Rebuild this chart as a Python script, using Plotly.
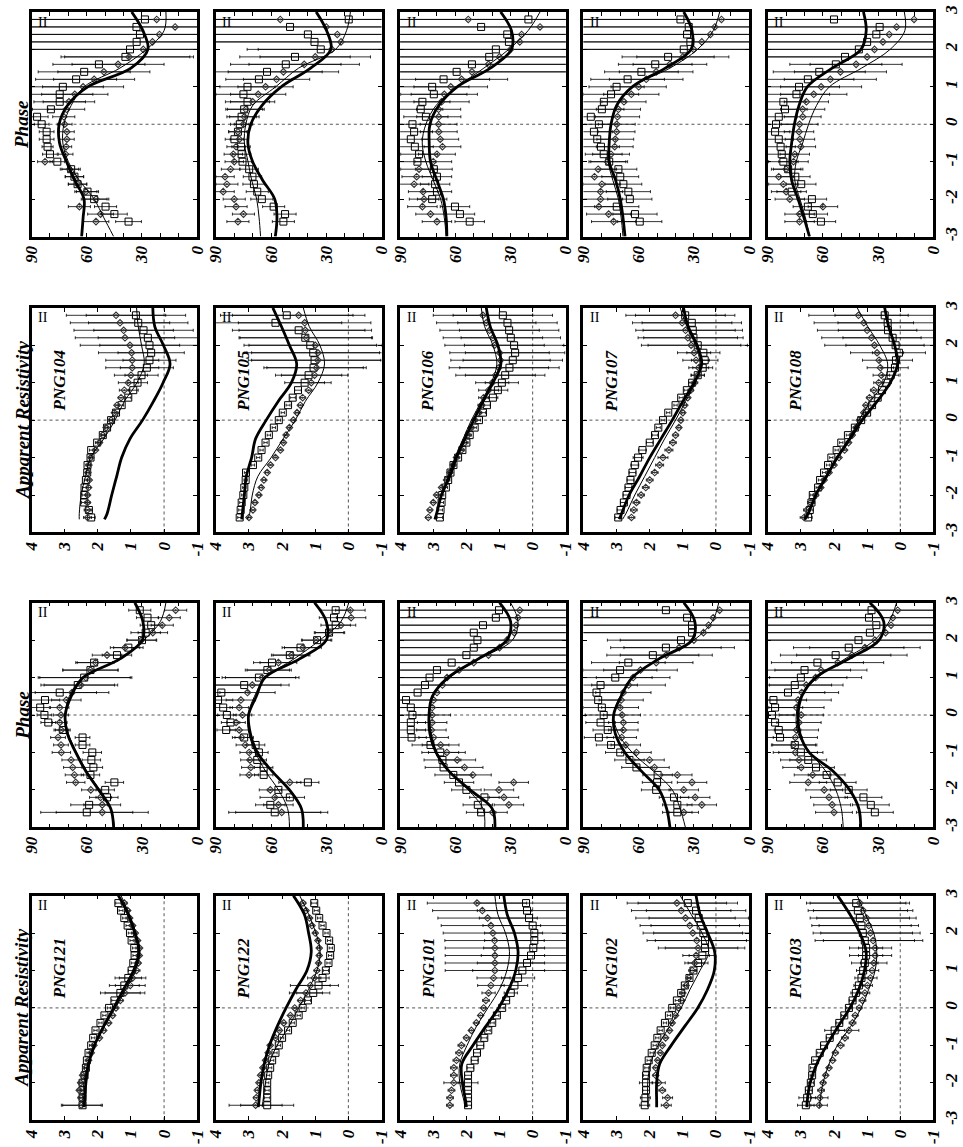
import plotly.graph_objects as go

# ---------------------------------------------------------------------------
# Period axis samples (log10 T) for the measured points and the model curves
# ---------------------------------------------------------------------------
P_DATA = [-2.6, -2.4, -2.2, -2.0, -1.8, -1.6, -1.4, -1.2, -1.0, -0.8, -0.6, -0.4, -0.2, 0.0,
          0.2, 0.4, 0.6, 0.8, 1.0, 1.2, 1.4, 1.6, 1.8, 2.0, 2.2, 2.4, 2.6, 2.8]
P_MODEL = [-3.0, -2.5, -2.0, -1.5, -1.0, -0.5, 0.0, 0.5, 1.0, 1.5, 2.0, 2.5, 3.0]
P_MODEL_RHO = [-2.65, -2.5, -2.0, -1.5, -1.0, -0.5, 0.0, 0.5, 1.0, 1.5, 2.0, 2.5, 3.0]

STATIONS_UPPER = ["PNG104", "PNG105", "PNG106", "PNG107", "PNG108"]
STATIONS_LOWER = ["PNG121", "PNG122", "PNG101", "PNG102", "PNG103"]

RHO_TICKS = [4, 3, 2, 1, 0, -1]
PHASE_TICKS = [90, 80, 70, 60, 50, 40, 30, 20, 10, 0]
PHASE_TICK_TEXT = ["90", "", "", "60", "", "", "30", "", "", "0"]
PERIOD_TICKS = [-3, -2, -1, 0, 1, 2, 3]

# ---------------------------------------------------------------------------
# Phase (degrees)
# ---------------------------------------------------------------------------
PHASE_THICK = {
    "PNG104": [62.8, 62.0, 61.5, 66.5, 71.0, 74.8, 75.0, 70.5, 59.5, 36.0, 26.8, 29.5, 35.6],
    "PNG105": [57.7, 56.8, 58.0, 64.5, 70.0, 72.6, 71.0, 65.0, 54.5, 38.5, 27.5, 29.8, 35.5],
    "PNG106": [64.6, 65.0, 66.5, 70.0, 73.5, 74.2, 73.8, 69.0, 59.0, 41.0, 29.5, 29.5, 35.4],
    "PNG107": [67.4, 68.5, 70.0, 72.5, 76.0, 76.0, 75.0, 72.0, 63.5, 45.5, 31.5, 31.0, 35.5],
    "PNG108": [67.3, 70.3, 73.5, 77.0, 78.0, 77.0, 75.5, 73.0, 68.5, 55.0, 39.3, 36.5, 38.0],
    "PNG121": [45.4, 47.0, 53.5, 60.5, 66.0, 70.5, 71.7, 68.5, 62.0, 42.0, 29.8, 29.5, 33.9],
    "PNG122": [42.5, 43.5, 50.0, 59.5, 67.5, 71.2, 72.2, 68.0, 63.3, 44.5, 30.0, 30.0, 36.4],
    "PNG101": [38.5, 40.0, 52.0, 63.5, 70.5, 73.8, 74.3, 72.5, 64.0, 47.5, 32.0, 30.0, 36.0],
    "PNG102": [43.0, 44.8, 48.8, 58.5, 67.5, 72.7, 73.6, 69.5, 63.5, 49.0, 31.0, 29.5, 35.5],
    "PNG103": [39.5, 40.5, 45.5, 54.5, 67.5, 72.5, 73.5, 71.5, 64.0, 46.0, 29.5, 27.0, 34.5],
}
PHASE_THIN = {
    "PNG104": [45.4, 50.7, 56.0, 64.0, 70.0, 73.0, 72.4, 68.5, 61.4, 42.0, 27.6, 18.0, 17.0],
    "PNG105": [65.7, 66.5, 67.8, 70.5, 72.5, 74.5, 73.7, 70.0, 57.5, 45.0, 25.0, 19.0, 16.9],
    "PNG106": [65.0, 66.0, 68.0, 72.0, 76.0, 78.0, 76.0, 70.5, 59.0, 44.5, 31.0, 20.5, 14.0],
    "PNG107": [68.5, 69.5, 71.0, 74.0, 76.5, 76.0, 75.0, 72.0, 63.5, 43.0, 28.0, 19.5, 16.0],
    "PNG108": [67.3, 69.5, 72.5, 75.3, 74.5, 71.0, 67.8, 63.5, 56.5, 39.0, 23.5, 15.5, 15.8],
    "PNG121": [45.0, 47.0, 53.0, 60.0, 65.5, 70.0, 71.7, 69.5, 62.0, 42.0, 29.0, 20.0, 17.0],
    "PNG122": [50.0, 51.0, 56.0, 63.0, 68.5, 72.0, 72.5, 69.0, 63.0, 47.5, 33.5, 22.0, 17.8],
    "PNG101": [44.0, 45.0, 53.0, 63.0, 70.0, 73.0, 74.0, 72.5, 63.0, 47.0, 29.0, 26.0, 30.0],
    "PNG102": [34.6, 37.5, 41.7, 52.0, 63.5, 71.0, 73.6, 70.0, 63.5, 49.0, 30.0, 20.0, 16.5],
    "PNG103": [49.0, 50.0, 53.0, 58.5, 67.0, 73.5, 74.5, 72.0, 63.0, 48.0, 32.0, 24.0, 20.0],
}
PHASE_SQ = {
    "PNG104": [37.3, 45.0, 49.8, 56.0, 59.6, 65.0, 66.7, 68.5, 76.0, 80.0, 81.3, 81.8, 81.8, 84.5,
               87.0, 79.5, 74.7, 74.7, 73.0, 65.8, 61.4, 53.4, 39.0, 36.5, 32.9, 31.1, 33.0, 28.4],
    "PNG105": [53.3, 52.4, 58.6, 65.0, 67.5, 69.3, 70.1, 71.9, 75.5, 76.0, 76.3, 79.9, 78.0, 77.0,
               76.0, 74.6, 72.8, 75.0, 72.8, 66.6, 62.2, 52.0, 47.0, 33.0, 36.4, 40.0, 49.7, 17.8],
    "PNG106": [52.2, 57.5, 60.2, 72.6, 70.0, 71.0, 70.0, 71.7, 80.6, 79.7, 82.0, 84.2, 82.4, 83.3,
               76.0, 78.8, 77.9, 71.7, 72.6, 66.4, 59.3, 51.0, 41.6, 38.0, 30.9, 31.8, 46.0, 20.3],
    "PNG107": [59.4, 62.0, 71.9, 64.8, 65.6, 68.3, 70.0, 71.0, 76.0, 79.0, 80.5, 82.5, 84.3, 81.6,
               86.0, 80.0, 78.9, 75.0, 72.0, 66.0, 58.5, 51.0, 44.0, 35.5, 31.9, 33.7, 32.8, 37.3],
    "PNG108": [61.1, 65.5, 68.2, 66.0, 77.0, 71.8, 75.0, 78.9, 81.5, 82.4, 83.0, 84.0, 86.0, 85.5,
               84.0, 80.6, 81.5, 74.4, 73.0, 68.2, 62.0, 53.0, 48.0, 40.5, 36.0, 31.0, 29.2, 54.0],
    "PNG121": [60.0, 58.7, 49.0, 50.0, 45.0, 58.0, 56.4, 57.5, 57.0, 62.3, 62.3, 73.0, 80.9, 83.0,
               85.3, 82.7, 74.7, 64.9, 61.4, 58.0, 56.0, 43.6, 37.4, 30.0, 28.0, 25.0, 27.0, 31.2],
    "PNG122": [58.0, 60.4, 49.8, 56.0, 40.0, 64.0, 64.0, 67.5, 66.6, 68.4, 74.6, 84.4, 82.0, 84.0,
               86.0, 88.8, 87.0, 74.6, 66.6, 62.0, 59.5, 49.8, 44.0, 35.0, 28.5, 24.9, 25.8, 24.9],
    "PNG101": [46.0, 47.8, 44.2, 54.0, 58.0, 61.1, 66.4, 67.0, 68.2, 73.5, 83.8, 84.2, 84.2, 83.3,
               84.2, 86.8, 80.5, 76.5, 74.0, 70.0, 62.0, 54.0, 50.0, 48.0, 50.0, 45.0, 38.0, 36.3],
    "PNG102": [39.0, 39.0, 40.8, 50.5, 50.0, 49.7, 61.2, 65.0, 70.0, 75.0, 81.6, 76.8, 80.7, 79.0,
               80.0, 82.0, 82.9, 80.7, 72.7, 70.1, 65.6, 52.3, 45.2, 37.0, 31.0, 31.0, 33.7, 45.2],
    "PNG103": [31.8, 34.0, 38.0, 46.0, 52.0, 58.0, 63.8, 68.0, 72.0, 75.3, 83.3, 84.0, 86.0, 87.7,
               86.0, 86.9, 79.0, 75.3, 72.0, 70.0, 63.0, 53.1, 46.0, 40.7, 34.5, 31.0, 35.0, 33.6],
}
PHASE_DI = {
    "PNG104": [55.0, 52.5, 64.0, 55.0, 60.5, 65.0, 66.7, 69.4, 82.7, 71.5, 71.2, 70.8, 70.8, 72.0,
               72.5, 71.1, 69.7, 66.5, 62.0, 56.0, 50.7, 43.0, 37.0, 29.3, 24.3, 20.5, 12.0, 22.0],
    "PNG105": [78.0, 75.0, 79.0, 80.0, 86.0, 84.0, 85.0, 82.0, 80.0, 80.5, 79.0, 77.2, 78.0, 75.0,
               74.5, 73.7, 70.0, 67.0, 63.0, 57.0, 53.3, 42.0, 36.0, 27.0, 22.0, 24.0, 30.0, 55.0],
    "PNG106": [70.0, 73.5, 77.9, 77.0, 77.5, 82.4, 81.0, 79.7, 72.0, 70.0, 67.0, 68.2, 69.0, 69.1,
               69.0, 69.1, 67.5, 66.0, 62.5, 56.6, 51.0, 42.0, 36.0, 30.0, 25.0, 24.0, 14.0, 53.0],
    "PNG107": [73.6, 76.3, 81.6, 80.7, 80.7, 80.0, 84.0, 82.0, 77.0, 75.0, 73.0, 72.7, 72.0, 71.9,
               71.5, 71.0, 68.0, 64.0, 60.0, 55.9, 50.5, 43.0, 36.0, 30.1, 25.7, 21.0, 18.6, 15.0],
    "PNG108": [72.7, 72.7, 60.0, 78.0, 80.0, 81.5, 84.0, 80.0, 76.0, 75.3, 72.0, 72.5, 73.0, 72.7,
               71.0, 71.0, 69.0, 65.0, 61.0, 56.0, 50.5, 42.0, 36.0, 32.0, 27.4, 24.0, 20.0, 10.5],
    "PNG121": [51.6, 51.6, 52.5, 57.8, 66.0, 66.7, 67.6, 68.5, 73.8, 74.0, 75.6, 73.8, 74.7, 74.0,
               74.7, 71.1, 68.0, 63.2, 60.5, 58.0, 55.2, 49.0, 39.2, 30.3, 24.1, 19.0, 15.2, 11.7],
    "PNG122": [54.2, 56.0, 58.0, 60.4, 49.8, 71.9, 71.0, 71.5, 71.9, 74.0, 76.0, 77.3, 79.0, 75.5,
               77.3, 76.4, 72.8, 70.2, 64.8, 61.0, 56.0, 48.9, 42.7, 35.5, 28.0, 22.0, 16.5, 16.9],
    "PNG101": [39.8, 30.9, 33.6, 36.3, 28.3, 50.5, 55.0, 59.0, 64.6, 68.0, 71.8, 73.0, 72.6, 72.6,
               72.6, 71.8, 70.0, 67.0, 64.5, 58.0, 50.0, 42.0, 36.0, 32.0, 28.0, 27.0, 26.0, 25.0],
    "PNG102": [35.5, 25.7, 29.3, 35.5, 31.0, 39.0, 51.4, 54.1, 61.2, 67.0, 69.2, 68.3, 68.3, 69.0,
               70.1, 69.5, 68.3, 65.5, 63.0, 59.0, 50.5, 45.0, 38.0, 30.0, 24.8, 22.0, 19.5, 16.0],
    "PNG103": [54.0, 55.0, 56.7, 59.3, 68.0, 65.6, 71.8, 73.0, 75.0, 76.0, 75.0, 74.4, 73.0, 71.8,
               74.4, 73.5, 71.5, 69.1, 64.0, 61.1, 52.0, 44.3, 37.2, 31.8, 26.0, 23.0, 22.0, 19.4],
}
PHASE_ERR = {
    "PNG104": [7, 7, 6, 7, 6, 5, 5, 5, 4, 4, 3, 4, 4, 4, 6, 10, 14, 18, 22, 22, 25, 25, 35, 90, 90, 90, 90, 90],
    "PNG105": [6, 6, 6, 6, 6, 6, 5, 5, 5, 5, 5, 5, 5, 5, 8, 10, 12, 15, 15, 18, 30, 30, 30, 40, 90, 90, 90, 90],
    "PNG106": [8, 8, 8, 8, 8, 8, 8, 10, 10, 10, 10, 10, 10, 10, 12, 12, 15, 18, 20, 25, 90, 90, 90, 90, 90, 90, 90, 90],
    "PNG107": [12, 12, 12, 12, 12, 10, 10, 10, 10, 10, 10, 10, 10, 10, 12, 12, 12, 15, 15, 20, 20, 20, 25, 90, 90, 90, 90, 90],
    "PNG108": [8, 8, 8, 8, 8, 8, 8, 8, 8, 8, 8, 8, 8, 10, 10, 12, 12, 18, 22, 25, 25, 25, 90, 90, 90, 90, 90, 90],
    "PNG121": [25, 10, 6, 5, 5, 5, 5, 5, 5, 4, 4, 4, 4, 4, 5, 8, 20, 20, 25, 15, 10, 8, 8, 8, 8, 6, 6, 6],
    "PNG122": [25, 8, 8, 6, 6, 5, 5, 5, 5, 5, 5, 5, 5, 5, 5, 8, 15, 20, 20, 12, 10, 10, 10, 8, 8, 8, 8, 8],
    "PNG101": [8, 8, 8, 8, 8, 10, 10, 10, 10, 10, 8, 8, 8, 10, 90, 90, 90, 90, 90, 90, 90, 90, 90, 90, 90, 90, 90, 90],
    "PNG102": [8, 8, 8, 8, 8, 8, 8, 8, 8, 8, 8, 8, 8, 10, 10, 12, 15, 20, 20, 20, 20, 25, 30, 40, 90, 90, 90, 90],
    "PNG103": [10, 10, 10, 10, 10, 10, 10, 10, 12, 12, 12, 12, 12, 12, 15, 18, 20, 20, 25, 25, 25, 30, 30, 90, 90, 90, 90, 90],
}

# ---------------------------------------------------------------------------
# Apparent resistivity (log10 ohm-m)
# ---------------------------------------------------------------------------
RHO_THICK = {
    "PNG104": [1.80, 1.72, 1.58, 1.43, 1.28, 1.03, 0.65, 0.32, 0.03, -0.18, 0.02, 0.28, 0.34],
    "PNG105": [3.22, 3.20, 3.14, 3.08, 2.92, 2.80, 2.48, 2.12, 1.72, 1.56, 1.78, 2.02, 2.28],
    "PNG106": [2.95, 2.90, 2.75, 2.50, 2.30, 2.05, 1.78, 1.50, 1.20, 0.96, 1.05, 1.28, 1.40],
    "PNG107": [2.92, 2.85, 2.62, 2.30, 2.00, 1.66, 1.32, 1.00, 0.66, 0.43, 0.57, 0.84, 0.98],
    "PNG108": [2.88, 2.78, 2.55, 2.22, 1.90, 1.52, 1.15, 0.70, 0.30, 0.08, 0.17, 0.35, 0.47],
    "PNG121": [2.41, 2.40, 2.36, 2.28, 2.10, 1.83, 1.52, 1.22, 0.92, 0.76, 0.88, 1.08, 1.38],
    "PNG122": [2.72, 2.70, 2.64, 2.54, 2.38, 2.15, 1.88, 1.58, 1.25, 1.12, 1.20, 1.33, 1.66],
    "PNG101": [2.00, 2.02, 2.12, 2.14, 1.80, 1.42, 1.03, 0.72, 0.51, 0.44, 0.55, 0.77, 0.87],
    "PNG102": [1.79, 1.79, 1.79, 1.70, 1.35, 0.95, 0.55, 0.25, 0.05, 0.04, 0.25, 0.48, 0.60],
    "PNG103": [2.82, 2.81, 2.72, 2.52, 2.22, 1.88, 1.52, 1.25, 1.08, 1.03, 1.22, 1.52, 1.89],
}
RHO_THIN = {
    "PNG104": [2.56, 2.56, 2.50, 2.37, 2.22, 1.82, 1.48, 1.20, 0.82, 0.60, 0.68, 0.78, 0.83],
    "PNG105": [3.05, 2.98, 2.90, 2.73, 2.33, 1.97, 1.60, 1.30, 0.92, 0.72, 0.86, 1.18, 1.36],
    "PNG106": [2.95, 2.90, 2.75, 2.55, 2.35, 2.10, 1.85, 1.55, 1.25, 1.08, 1.20, 1.45, 1.55],
    "PNG107": [2.82, 2.72, 2.45, 2.15, 1.85, 1.55, 1.22, 0.92, 0.62, 0.48, 0.62, 0.88, 1.08],
    "PNG108": [2.90, 2.80, 2.56, 2.25, 1.92, 1.55, 1.25, 0.90, 0.50, 0.38, 0.62, 0.98, 1.30],
    "PNG121": [2.45, 2.45, 2.42, 2.30, 2.10, 1.80, 1.47, 1.15, 0.86, 0.73, 0.85, 1.05, 1.30],
    "PNG122": [2.60, 2.58, 2.50, 2.40, 2.15, 1.80, 1.50, 1.20, 0.95, 0.85, 0.98, 1.20, 1.47],
    "PNG101": [2.05, 2.07, 2.20, 2.20, 1.98, 1.70, 1.35, 1.00, 0.78, 0.70, 0.82, 1.05, 1.14],
    "PNG102": [2.06, 2.06, 2.06, 1.98, 1.75, 1.40, 1.05, 0.78, 0.48, 0.22, 0.42, 0.75, 1.08],
    "PNG103": [2.43, 2.42, 2.33, 2.15, 1.90, 1.50, 1.18, 0.95, 0.76, 0.71, 0.80, 1.05, 1.30],
}
RHO_SQ = {
    "PNG104": [2.20, 2.27, 2.41, 2.41, 2.40, 2.36, 2.32, 2.31, 2.22, 2.20, 2.02, 1.85, 1.72, 1.60,
               1.45, 1.28, 1.08, 0.93, 0.80, 0.68, 0.52, 0.44, 0.39, 0.44, 0.49, 0.62, 0.78, 0.85],
    "PNG105": [3.28, 3.25, 3.22, 3.17, 3.14, 3.10, 3.09, 2.88, 2.72, 2.62, 2.50, 2.40, 2.25, 2.10,
               1.98, 1.82, 1.68, 1.52, 1.32, 1.20, 1.05, 1.02, 1.06, 1.15, 1.30, 1.50, 2.20, 1.86],
    "PNG106": [2.80, 2.78, 2.75, 2.73, 2.62, 2.55, 2.48, 2.39, 2.25, 2.12, 2.00, 1.90, 1.75, 1.62,
               1.50, 1.38, 1.20, 1.05, 0.93, 0.83, 0.70, 0.60, 0.53, 0.56, 0.66, 0.71, 0.76, 0.90],
    "PNG107": [2.95, 2.88, 2.78, 2.70, 2.64, 2.58, 2.52, 2.45, 2.35, 2.22, 2.00, 1.84, 1.74, 1.60,
               1.44, 1.22, 1.05, 0.88, 0.72, 0.55, 0.40, 0.34, 0.38, 0.55, 0.68, 0.70, 0.73, 0.93],
    "PNG108": [2.78, 2.73, 2.68, 2.64, 2.48, 2.42, 2.30, 2.18, 2.08, 1.92, 1.78, 1.58, 1.37, 1.18,
               1.00, 0.85, 0.68, 0.55, 0.42, 0.29, 0.16, 0.13, 0.04, 0.14, 0.23, 0.37, 0.38, 0.47],
    "PNG121": [2.46, 2.46, 2.46, 2.46, 2.40, 2.36, 2.33, 2.28, 2.20, 2.14, 2.07, 1.92, 1.80, 1.66,
               1.50, 1.32, 1.20, 1.08, 0.98, 0.93, 0.89, 0.90, 0.98, 1.03, 1.10, 1.20, 1.30, 1.38],
    "PNG122": [2.45, 2.45, 2.45, 2.45, 2.42, 2.36, 2.30, 2.20, 2.10, 2.00, 1.82, 1.68, 1.50, 1.38,
               1.22, 1.06, 0.90, 0.78, 0.68, 0.60, 0.55, 0.53, 0.58, 0.66, 0.78, 0.88, 0.97, 1.03],
    "PNG101": [1.95, 1.95, 1.95, 1.95, 1.95, 1.88, 1.75, 1.68, 1.58, 1.46, 1.34, 1.22, 1.08, 0.92,
               0.80, 0.66, 0.55, 0.44, 0.31, 0.17, 0.05, -0.02, -0.05, -0.05, 0.00, 0.11, 0.17, 0.20],
    "PNG102": [2.15, 2.13, 2.11, 2.11, 2.11, 2.09, 2.03, 1.94, 1.85, 1.77, 1.67, 1.54, 1.42, 1.32,
               1.18, 1.05, 0.94, 0.80, 0.68, 0.54, 0.41, 0.33, 0.33, 0.38, 0.46, 0.52, 0.60, 0.85],
    "PNG103": [2.85, 2.81, 2.76, 2.70, 2.66, 2.65, 2.57, 2.43, 2.30, 2.13, 1.98, 1.84, 1.69, 1.55,
               1.44, 1.34, 1.25, 1.17, 1.12, 1.07, 1.03, 1.03, 1.07, 1.13, 1.17, 1.22, 1.28, 1.33],
}
RHO_DI = {
    "PNG104": [2.31, 2.31, 2.31, 2.31, 2.28, 2.26, 2.30, 2.27, 2.21, 2.07, 1.95, 1.85, 1.75, 1.60,
               1.50, 1.42, 1.30, 1.20, 1.08, 1.00, 0.96, 0.96, 0.98, 1.03, 1.18, 1.22, 1.33, 1.45],
    "PNG105": [3.00, 2.88, 2.82, 2.70, 2.63, 2.55, 2.45, 2.35, 2.20, 2.05, 1.96, 1.88, 1.78, 1.66,
               1.55, 1.45, 1.38, 1.20, 1.12, 1.02, 0.96, 0.92, 0.92, 1.00, 1.27, 1.30, 1.32, 1.50],
    "PNG106": [3.15, 3.10, 3.00, 2.90, 2.75, 2.60, 2.50, 2.40, 2.30, 2.15, 2.05, 1.95, 1.85, 1.75,
               1.62, 1.55, 1.48, 1.33, 1.22, 1.12, 1.02, 0.97, 1.00, 1.15, 1.20, 1.30, 1.40, 1.50],
    "PNG107": [2.55, 2.48, 2.40, 2.26, 2.12, 2.00, 1.85, 1.70, 1.60, 1.42, 1.30, 1.22, 1.12, 1.06,
               1.00, 0.94, 0.85, 0.76, 0.65, 0.55, 0.52, 0.60, 0.66, 0.75, 0.85, 0.92, 1.02, 1.22],
    "PNG108": [2.90, 2.82, 2.70, 2.55, 2.40, 2.30, 2.15, 2.00, 1.85, 1.68, 1.56, 1.45, 1.33, 1.24,
               1.10, 1.04, 0.93, 0.80, 0.65, 0.57, 0.60, 0.64, 0.70, 0.78, 0.87, 1.00, 1.10, 1.26],
    "PNG121": [2.50, 2.51, 2.56, 2.52, 2.46, 2.36, 2.28, 2.20, 2.12, 1.95, 1.82, 1.67, 1.55, 1.45,
               1.32, 1.18, 1.02, 0.95, 0.83, 0.78, 0.75, 0.74, 0.80, 0.87, 0.95, 1.04, 1.10, 1.20],
    "PNG122": [2.80, 2.78, 2.75, 2.70, 2.65, 2.58, 2.50, 2.42, 2.36, 2.20, 2.08, 1.95, 1.75, 1.62,
               1.44, 1.28, 1.15, 1.03, 0.95, 0.90, 0.88, 0.88, 0.92, 1.00, 1.10, 1.17, 1.28, 1.37],
    "PNG101": [2.50, 2.49, 2.45, 2.38, 2.38, 2.38, 2.30, 2.22, 2.15, 2.00, 1.85, 1.70, 1.57, 1.48,
               1.41, 1.33, 1.26, 1.18, 1.14, 1.14, 1.14, 1.14, 1.15, 1.20, 1.26, 1.36, 1.52, 1.68],
    "PNG102": [1.50, 1.46, 1.62, 1.73, 1.82, 1.82, 1.76, 1.68, 1.62, 1.52, 1.40, 1.32, 1.22, 1.13,
               1.03, 1.00, 0.90, 0.82, 0.72, 0.64, 0.60, 0.54, 0.58, 0.70, 0.79, 0.92, 1.05, 1.18],
    "PNG103": [2.45, 2.43, 2.39, 2.33, 2.25, 2.15, 2.04, 1.96, 1.80, 1.67, 1.55, 1.44, 1.36, 1.24,
               1.14, 1.07, 0.99, 0.90, 0.85, 0.80, 0.76, 0.76, 0.82, 0.90, 0.95, 1.02, 1.12, 1.22],
}
RHO_ERR = {
    "PNG104": [0.12, 0.10, 0.08, 0.06, 0.06, 0.05, 0.05, 0.05, 0.05, 0.05, 0.05, 0.05, 0.05, 0.05,
               0.05, 0.06, 0.08, 0.15, 0.30, 0.50, 0.80, 0.80, 1.00, 1.50, 1.50, 1.50, 1.50, 1.50],
    "PNG105": [0.06, 0.06, 0.06, 0.05, 0.05, 0.05, 0.05, 0.05, 0.05, 0.05, 0.05, 0.05, 0.05, 0.05,
               0.05, 0.06, 0.08, 0.10, 0.60, 1.00, 1.50, 2.00, 2.00, 2.00, 2.00, 2.00, 2.00, 2.00],
    "PNG106": [0.08, 0.06, 0.06, 0.05, 0.05, 0.05, 0.05, 0.05, 0.05, 0.05, 0.05, 0.05, 0.05, 0.05,
               0.08, 0.10, 0.15, 0.30, 0.50, 1.20, 1.50, 1.50, 1.50, 1.50, 1.50, 1.50, 1.50, 1.50],
    "PNG107": [0.10, 0.10, 0.10, 0.10, 0.10, 0.10, 0.10, 0.12, 0.15, 0.12, 0.10, 0.08, 0.06, 0.06,
               0.05, 0.05, 0.06, 0.08, 0.10, 0.20, 0.30, 0.40, 0.50, 1.50, 1.50, 1.50, 1.50, 1.50],
    "PNG108": [0.12, 0.10, 0.10, 0.08, 0.06, 0.05, 0.05, 0.05, 0.05, 0.05, 0.05, 0.05, 0.05, 0.05,
               0.05, 0.06, 0.08, 0.10, 0.15, 0.25, 0.40, 0.50, 0.80, 1.50, 1.50, 1.50, 1.50, 1.50],
    "PNG121": [0.60, 0.08, 0.06, 0.05, 0.05, 0.05, 0.05, 0.05, 0.05, 0.05, 0.05, 0.05, 0.05, 0.05,
               0.08, 0.60, 0.45, 0.40, 0.10, 0.06, 0.05, 0.05, 0.05, 0.05, 0.05, 0.05, 0.06, 0.08],
    "PNG122": [0.80, 0.08, 0.06, 0.05, 0.05, 0.05, 0.05, 0.05, 0.05, 0.05, 0.05, 0.05, 0.05, 0.05,
               0.08, 0.50, 0.60, 0.20, 0.08, 0.05, 0.05, 0.05, 0.05, 0.05, 0.05, 0.05, 0.06, 0.08],
    "PNG101": [0.10, 0.10, 0.10, 0.30, 0.10, 0.10, 0.10, 0.10, 0.10, 0.08, 0.06, 0.06, 0.06, 0.06,
               0.10, 0.20, 0.40, 0.50, 1.50, 1.50, 1.50, 1.50, 1.50, 1.50, 1.50, 1.50, 1.50, 1.50],
    "PNG102": [0.15, 0.15, 0.10, 0.20, 0.08, 0.06, 0.05, 0.05, 0.05, 0.05, 0.05, 0.05, 0.05, 0.05,
               0.05, 0.05, 0.05, 0.05, 0.10, 0.30, 0.40, 1.20, 1.50, 1.50, 1.50, 1.50, 1.50, 1.50],
    "PNG103": [0.25, 0.25, 0.10, 0.08, 0.06, 0.06, 0.06, 0.08, 0.10, 0.10, 0.30, 0.10, 0.08, 0.08,
               0.10, 0.15, 0.15, 0.20, 0.20, 0.40, 0.50, 0.50, 1.50, 1.50, 1.50, 1.50, 1.50, 1.50],
}

# ---------------------------------------------------------------------------
# Page geometry (pixels): 5 columns x 4 rows of panels
# ---------------------------------------------------------------------------
W, H = 963, 1147
COL_LEFT = [23, 211, 399, 586, 774]
PANEL_W = 169
ROW_TOP = [5, 304, 602, 898]
PANEL_H = 227
ROW_KIND = ["phase", "rho", "phase", "rho"]
ROW_STATIONS = [STATIONS_UPPER, STATIONS_UPPER, STATIONS_LOWER, STATIONS_LOWER]

SERIF = "Liberation Serif, Times New Roman, serif"
LABEL_FONT = dict(family=SERIF, size=17, color="black", weight="bold", style="italic")
INK = "black"

fig = go.Figure()
layout = dict(
    width=W, height=H, margin=dict(l=0, r=0, t=0, b=0),
    paper_bgcolor="white", plot_bgcolor="white", showlegend=False,
)
shapes, annotations = [], []

k = 0
for r in range(4):
    kind = ROW_KIND[r]
    for c in range(5):
        k += 1
        st = ROW_STATIONS[r][c]
        suffix = "" if k == 1 else str(k)
        xa, ya = "x" + suffix, "y" + suffix
        left, top = COL_LEFT[c], ROW_TOP[r]

        if kind == "phase":
            sq, di, err = PHASE_SQ[st], PHASE_DI[st], PHASE_ERR[st]
            thick, thin, pm = PHASE_THICK[st], PHASE_THIN[st], P_MODEL
            xrange_, tv, tt = [90, 0], PHASE_TICKS, PHASE_TICK_TEXT
        else:
            sq, di, err = RHO_SQ[st], RHO_DI[st], RHO_ERR[st]
            thick, thin, pm = RHO_THICK[st], RHO_THIN[st], P_MODEL_RHO
            xrange_, tv, tt = [4, -1], RHO_TICKS, [str(v) for v in RHO_TICKS]

        ebar = dict(type="data", array=err, visible=True, thickness=0.8, width=1.5, color=INK)
        fig.add_trace(go.Scatter(
            x=sq, y=P_DATA, xaxis=xa, yaxis=ya, mode="markers",
            marker=dict(symbol="square-open", size=7, color=INK, line=dict(width=1, color=INK)),
            error_x=ebar, hoverinfo="skip"))
        fig.add_trace(go.Scatter(
            x=di, y=P_DATA, xaxis=xa, yaxis=ya, mode="markers",
            marker=dict(symbol="diamond-open-dot", size=5, color="#333", line=dict(width=1.1, color="#333")),
            error_x=ebar, hoverinfo="skip"))
        fig.add_trace(go.Scatter(
            x=thin, y=pm, xaxis=xa, yaxis=ya, mode="lines",
            line=dict(color=INK, width=1, shape="spline", smoothing=1.0), hoverinfo="skip"))
        fig.add_trace(go.Scatter(
            x=thick, y=pm, xaxis=xa, yaxis=ya, mode="lines",
            line=dict(color=INK, width=2.8, shape="spline", smoothing=1.0), hoverinfo="skip"))

        axis_common = dict(
            showline=True, linewidth=2.5, linecolor=INK, mirror="ticks",
            ticks="inside", ticklen=4, tickwidth=1.2, tickcolor=INK,
            showgrid=False, zeroline=False, fixedrange=True,
            tickangle=-90, tickfont=LABEL_FONT,
        )
        layout["xaxis" + suffix] = dict(
            axis_common, domain=[left / W, (left + PANEL_W) / W], range=xrange_,
            anchor=ya, tickmode="array", tickvals=tv, ticktext=tt,
        )
        layout["yaxis" + suffix] = dict(
            axis_common, domain=[1 - (top + PANEL_H) / H, 1 - top / H], range=[-3, 3],
            anchor=xa, tickmode="array", tickvals=PERIOD_TICKS,
            ticktext=[str(v) for v in PERIOD_TICKS],
            side="right", showticklabels=(c == 4),
        )

        # dotted reference lines at log T = 0 (and log rho = 0)
        shapes.append(dict(type="line", xref=xa, yref=ya, x0=xrange_[0], x1=xrange_[1], y0=0, y1=0,
                           line=dict(color="#555", width=1, dash="dot"), layer="below"))
        if kind == "rho":
            shapes.append(dict(type="line", xref=xa, yref=ya, x0=0, x1=0, y0=-3, y1=3,
                               line=dict(color="#555", width=1, dash="dot"), layer="below"))
            annotations.append(dict(text=st, xref=xa, yref=ya, x=3.15, y=1.05, showarrow=False,
                                    xanchor="center", yanchor="middle",
                                    textangle=-90, font=LABEL_FONT))
        annotations.append(dict(text="II", xref=xa + " domain", yref=ya + " domain", x=0.07, y=0.955,
                                xanchor="center", yanchor="middle", showarrow=False,
                                font=dict(family=SERIF, size=14, color=INK)))

    # row title on the left margin
    title = "Phase" if kind == "phase" else "Apparent Resistivity"
    annotations.append(dict(text=title, xref="paper", yref="paper", x=13 / W,
                            y=1 - (ROW_TOP[r] + PANEL_H / 2) / H, showarrow=False, textangle=-90,
                            xanchor="center", yanchor="middle",
                            font=dict(family=SERIF, size=19, color=INK, weight="bold", style="italic")))

layout["shapes"] = shapes
layout["annotations"] = annotations
fig.update_layout(**layout)
fig.write_html("out.html")
